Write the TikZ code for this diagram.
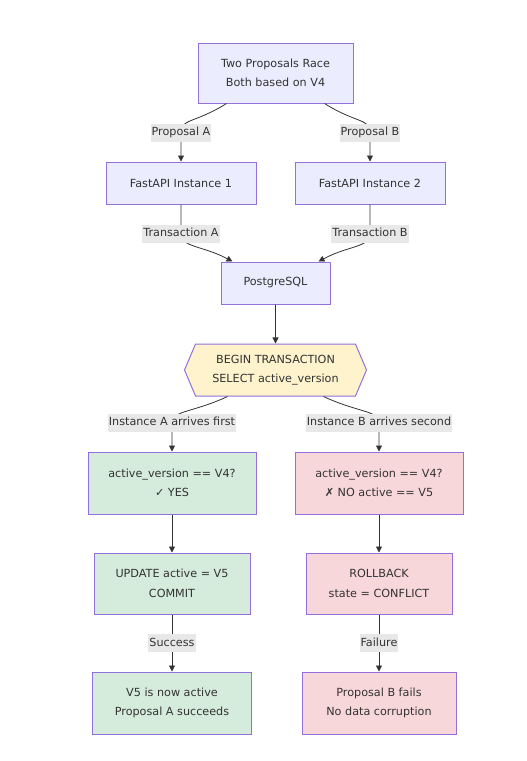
\documentclass[tikz,border=0pt]{standalone}
\usepackage{fontspec}
\setmainfont{DejaVu Sans}
\usetikzlibrary{arrows.meta, shapes.symbols}
\definecolor{boxfill}{HTML}{ECECFF}
\definecolor{boxline}{HTML}{9370DB}
\definecolor{txtgray}{HTML}{333333}
\definecolor{okfill}{HTML}{D5EBDB}
\definecolor{badfill}{HTML}{F8D7DA}
\definecolor{txfill}{HTML}{FFF3CD}
\definecolor{lblfill}{HTML}{E8E8E8}

\begin{document}
\begin{tikzpicture}[
    x=1pt, y=-1pt,
    box/.style={
        draw=boxline,
        fill=boxfill,
        line width=1pt,
        align=center,
        text=txtgray,
        font=\fontsize{11.2pt}{19.5pt}\selectfont
    },
    okbox/.style={box, fill=okfill},
    badbox/.style={box, fill=badfill},
    txbox/.style={
        box,
        fill=txfill,
        signal,
        signal to=west and east,
        signal pointer angle=134
    },
    lbl/.style={
        fill=lblfill,
        text=txtgray,
        inner xsep=1pt,
        inner ysep=3pt,
        text height=9pt,
        text depth=3pt,
        font=\fontsize{11.2pt}{12pt}\selectfont
    },
    arrow/.style={
        -{Triangle[length=6pt,width=6pt]},
        draw=txtgray,
        line width=0.8pt
    }
]

\useasboundingbox (0,0) rectangle (527,761);

\node[box, minimum width=155, minimum height=60] (race) at (275.5,73)
{Two Proposals Race\\
Both based on V4};

\node[box, minimum width=150, minimum height=42] (inst1) at (181,183)
{FastAPI Instance 1};

\node[box, minimum width=150, minimum height=42] (inst2) at (370,183)
{FastAPI Instance 2};

\node[box, minimum width=109, minimum height=42] (pg) at (275.5,283)
{PostgreSQL};

\node[txbox, minimum width=182, minimum height=52] (begin) at (275.5,370)
{BEGIN TRANSACTION\\
SELECT active\_version};

\node[okbox, minimum width=168, minimum height=62] (checkA) at (172,483)
{active\_version == V4?\\
✓ YES};

\node[badbox, minimum width=168, minimum height=62] (checkB) at (379,483)
{active\_version == V4?\\
✗ NO active == V5};

\node[okbox, minimum width=156, minimum height=61] (update) at (172,583.5)
{UPDATE active = V5\\
COMMIT};

\node[badbox, minimum width=146, minimum height=61] (rollback) at (379,583.5)
{ROLLBACK\\
state = CONFLICT};

\node[okbox, minimum width=159, minimum height=62] (done) at (172,703)
{V5 is now active\\
Proposal A succeeds};

\node[badbox, minimum width=154, minimum height=62] (fails) at (379,703)
{Proposal B fails\\
No data corruption};

\draw[arrow] ([xshift=-49pt]race.south) .. controls +(-32,20) and +(0,-14) ..
([yshift=29pt]inst1.north) node[lbl]{Proposal A} -- (inst1);

\draw[arrow] ([xshift=49pt]race.south) .. controls +(32,20) and +(0,-14) ..
([yshift=29pt]inst2.north) node[lbl]{Proposal B} -- (inst2);

\draw[arrow] (inst1) -- ([yshift=-29pt]inst1.south) node[lbl]{Transaction A}
.. controls +(0,14) and +(-30,-16) .. ([xshift=-43pt]pg.north);

\draw[arrow] (inst2) -- ([yshift=-29pt]inst2.south) node[lbl]{Transaction B}
.. controls +(0,14) and +(30,-16) .. ([xshift=43pt]pg.north);

\draw[arrow] (pg) -- (begin);

\draw[arrow] ([xshift=-48pt]begin.south) .. controls +(-34,16) and +(0,-12) ..
([yshift=29pt]checkA.north) node[lbl]{Instance A arrives first} -- (checkA);

\draw[arrow] ([xshift=48pt]begin.south) .. controls +(34,16) and +(0,-12) ..
([yshift=29pt]checkB.north) node[lbl]{Instance B arrives second} -- (checkB);

\draw[arrow] (checkA) -- (update);

\draw[arrow] (checkB) -- (rollback);

\draw[arrow] (update) --
node[lbl]{Success} (done);

\draw[arrow] (rollback) --
node[lbl]{Failure} (fails);

\end{tikzpicture}
\end{document}
